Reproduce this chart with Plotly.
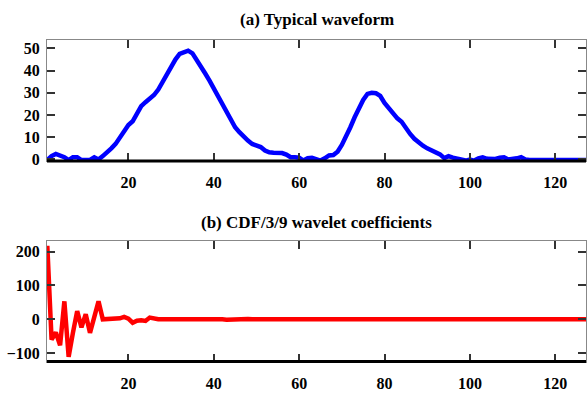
import plotly.graph_objects as go

# ---- data ----
x_idx = list(range(1, 129))

waveform = [
    -0.3, 1.5, 2.5, 2.0, 1.0, -0.3, 1.0, 1.0, -0.3, -0.3,
    -0.2, 1.0, 0.0, 1.5, 3.0, 5.0, 7.0, 10.0, 13.0, 15.5,
    17.2, 20.7, 24.0, 25.8, 27.2, 29.0, 31.5, 35.0, 37.6, 41.3,
    45.0, 47.5, 48.5, 49.0, 47.8, 45.0, 41.5, 38.7, 35.5, 32.0,
    28.0, 24.5, 21.0, 18.0, 14.5, 12.3, 10.2, 8.5, 7.0, 6.3,
    5.6, 4.0, 3.2, 3.0, 3.0, 2.9, 2.2, 1.0, 1.0, 0.8,
    -0.5, 0.6, 0.8, 0.2, -0.5, 0.5, 1.8, 2.0, 3.5, 6.5,
    10.0, 14.5, 19.0, 23.5, 26.8, 29.5, 30.0, 29.8, 28.6, 25.5,
    23.0, 20.5, 18.5, 17.0, 14.0, 11.5, 9.3, 7.5, 6.2, 5.0,
    4.0, 3.2, 2.3, 0.6, 1.5, 0.8, 0.4, 0.2, -0.5, 0.0,
    -0.5, 0.5, 1.0, 0.3, 0.0, 0.2, 0.8, 1.0, 0.0, 0.0,
    0.5, 1.0, 0.0, -0.2, -0.2, -0.2, -0.2, -0.2, -0.2, -0.2,
    -0.2, -0.2, -0.2, -0.2, -0.2, -0.2, -0.2, -0.2,
]

coeffs = [
    217, -60, -39, -77, 53, -111, -40, 24, -24, 15,
    -40, 5, 53, 0, 0, 0, 0, 3, 7, 2,
    -10, -4, -3, -5, 5, 2, 0, 0, 0, 0,
    1, 1, 3, 2, 1, 0, 0, 1, 0, 0,
    1, 0, -1, 0, 1, 0, 0, 1, 0, 1,
    0, 0, 0, 1, 0, 0, 0, 0, 0, 0,
    0, 0, 0, 0, 0, 0, 0, 0, 0, 0,
    0, 0, 0, 0, 0, 0, 0, 0, 0, 0,
    0, 0, 0, 0, 0, 0, 0, 0, 0, 0,
    0, 0, 0, 0, 0, 0, 0, 0, 0, 0,
    0, 0, 0, 0, 0, 0, 0, 0, 0, 0,
    0, 0, 0, 0, 0, 0, 0, 0, 0, 0,
    0, 0, 0, 0, 0, 0, 0, 0,
]

x_ticks = [20, 40, 60, 80, 100, 120]
y1_ticks = [0, 10, 20, 30, 40, 50]
y2_ticks = [-100, 0, 100, 200]
titles = ["(a) Typical waveform", "(b) CDF/3/9 wavelet coefficients"]

W, H = 587, 398
FONT = "Liberation Serif"

fig = go.Figure()
fig.add_trace(go.Scatter(x=x_idx, y=waveform, mode="lines",
                         line=dict(color="#0000ff", width=4.5),
                         xaxis="x", yaxis="y", showlegend=False))
fig.add_trace(go.Scatter(x=x_idx, y=coeffs, mode="lines",
                         line=dict(color="#ff0000", width=4.5),
                         xaxis="x2", yaxis="y2", showlegend=False))

def px2paper_y(py):
    return 1 - py / H

axis_common = dict(
    showgrid=False, zeroline=False, showline=True, linecolor="#888888",
    linewidth=1, mirror="ticks", ticks="inside", ticklen=8,
    tickcolor="#333333", tickwidth=1.5,
    tickfont=dict(family=FONT, size=16, color="black", weight="bold"),
)
xr = [0.93, 127.2]
xstand = 7
ystand = 3

fig.update_layout(
    width=W, height=H,
    margin=dict(l=47, r=0, t=0, b=0),
    paper_bgcolor="white", plot_bgcolor="white",
    xaxis=dict(axis_common, range=xr, tickvals=x_ticks, anchor="y",
               domain=[0, 1], ticklabelstandoff=xstand),
    yaxis=dict(axis_common, range=[-0.75, 53.8], tickvals=y1_ticks,
               anchor="x", ticklabelstandoff=ystand,
               domain=[px2paper_y(164.0), px2paper_y(40.7)]),
    xaxis2=dict(axis_common, range=xr, tickvals=x_ticks, anchor="y2",
                domain=[0, 1], ticklabelstandoff=xstand),
    yaxis2=dict(axis_common, range=[-124.6, 229.9], tickvals=y2_ticks,
                anchor="x2", ticklabelstandoff=ystand,
                domain=[px2paper_y(368.0), px2paper_y(245.7)]),
)

# thick bottom frame lines
for yref in ["y domain", "y2 domain"]:
    fig.add_shape(type="line", xref="paper", yref=yref,
                  x0=0, x1=1, y0=0, y1=0,
                  line=dict(color="black", width=3), layer="above")

for t, py in zip(titles, [20, 226]):
    fig.add_annotation(text="<b>%s</b>" % t, xref="paper", yref="paper",
                       x=0.5, y=px2paper_y(py), showarrow=False,
                       xanchor="center", yanchor="middle",
                       font=dict(family=FONT, size=17, color="black"))

fig.write_html("out.html")
